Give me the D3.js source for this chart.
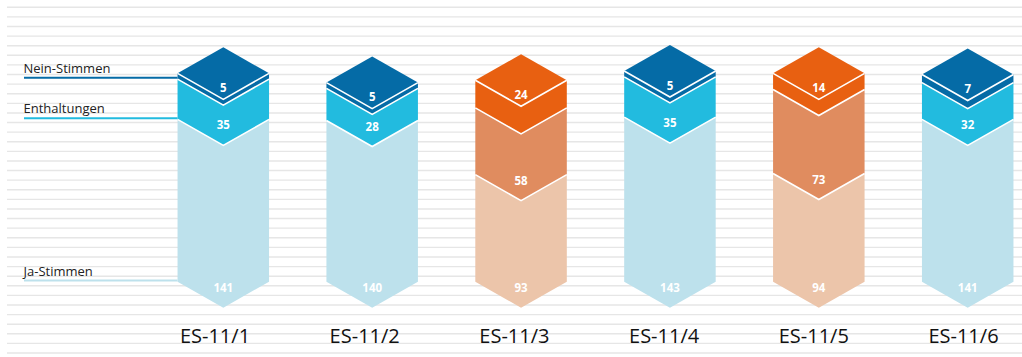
<!DOCTYPE html>
<html><head><meta charset="utf-8">
<script src="https://cdn.jsdelivr.net/npm/d3@7"></script>
<style>
html,body{margin:0;padding:0;background:#fff;}
svg{display:block;}
</style>
</head><body>
<svg id="chart" width="1022" height="357"></svg>
<script>
const categories = ["ES-11/1","ES-11/2","ES-11/3","ES-11/4","ES-11/5","ES-11/6"];
const jaStimmen = [141,140,93,143,94,141];
const enthaltungen = [35,28,58,35,73,32];
const neinStimmen = [5,5,24,5,14,7];
const schemes = ["blue","blue","orange","blue","orange","blue"];
const seriesNames = ["Ja-Stimmen","Enthaltungen","Nein-Stimmen"];
const palette = {
  blue:   ["#bde1ec","#22bbdf","#056ba6"],
  orange: ["#ecc5aa","#e08c5f","#e86011"]
};

const svg = d3.select("#chart");
const W = 1022, H = 357;

// background lines
const gridY = d3.scaleLinear().domain([0,36]).range([7.3,353]);
svg.append("g").selectAll("line").data(d3.range(37)).join("line")
  .attr("x1",7).attr("x2",W)
  .attr("y1",d=>gridY(d)).attr("y2",d=>gridY(d))
  .attr("stroke","#e6e6e6").attr("stroke-width",1.4);

const y = d3.scaleLinear().domain([0,200]).range([281.7, 281.7-200*1.151]);
const x = d3.scalePoint().domain(categories).range([223.3,967.7]);
const xLab = d3.scalePoint().domain(categories).range([215,963.5]);
const bw = 91.5, hw = bw/2, D = 26;

const rows = categories.map((c,i)=>{
  const vals = [jaStimmen[i], enthaltungen[i], neinStimmen[i]];
  let acc = 0;
  const segs = vals.map((v,k)=>{ const s={k, v, y0:acc, y1:acc+v}; acc+=v; return s; });
  return {c, i, segs, scheme: schemes[i]};
});

const g = svg.append("g");
rows.forEach(r=>{
  const cx = x(r.c), L = cx-hw, R = cx+hw;
  const cols = palette[r.scheme];
  r.segs.forEach((s,k)=>{
    const yb = y(s.y0), yt = y(s.y1);
    const top = k===2
      ? [[L,yt],[cx,yt-D],[R,yt]]
      : [[L,yt],[cx,yt+D],[R,yt]];
    const pts = top.concat([[R,yb],[cx,yb+D],[L,yb]]);
    g.append("path").attr("d","M"+pts.map(p=>p.join(",")).join("L")+"Z")
      .attr("fill",cols[k]);
  });
  // white separator V lines
  r.segs.forEach((s,k)=>{
    if(k===0) return;
    const yy = y(s.y0);
    g.append("path").attr("d",`M${L},${yy}L${cx},${yy+D}L${R},${yy}`)
      .attr("fill","none").attr("stroke","#fff").attr("stroke-width",1.6);
  });
  const topY = y(r.segs[2].y1);
  g.append("path").attr("d",`M${L},${topY}L${cx},${topY+D}L${R},${topY}`)
    .attr("fill","none").attr("stroke","#fff").attr("stroke-width",1.6);
  // value labels
  r.segs.forEach((s,k)=>{
    const ly = k===2 ? topY+14 : y(s.y0)+5.5;
    g.append("text").attr("x",cx).attr("y",ly)
      .attr("text-anchor","middle").attr("dominant-baseline","central")
      .attr("font-family","'Open Sans', sans-serif").attr("font-weight","bold")
      .attr("font-size",11.5).attr("fill","#fff").text(s.v);
  });
});

// category labels
svg.append("g").selectAll("text").data(categories).join("text")
  .attr("x",d=>xLab(d)).attr("y",343.3).attr("text-anchor","middle")
  .attr("font-family","'Open Sans', sans-serif").attr("font-size",20)
  .attr("fill","#111").text(d=>d);

// legend labels with lines (attached to first bar)
const first = rows[0];
const legendY = [
  {name: seriesNames[2], text: 73.3, line: 77.7, col: palette.blue[2]},
  {name: seriesNames[1], text: 112.7, line: 118.3, col: palette.blue[1]},
  {name: seriesNames[0], text: 276, line: 280.5, col: palette.blue[0]}
];
const lg = svg.append("g");
legendY.forEach(l=>{
  lg.append("line").attr("x1",24).attr("x2",x(first.c)-hw)
    .attr("y1",l.line).attr("y2",l.line).attr("stroke",l.col).attr("stroke-width",2);
  lg.append("text").attr("x",23.5).attr("y",l.text)
    .attr("font-family","'Open Sans', sans-serif").attr("font-size",13)
    .attr("fill","#222").text(l.name);
});
</script>
</body></html>
